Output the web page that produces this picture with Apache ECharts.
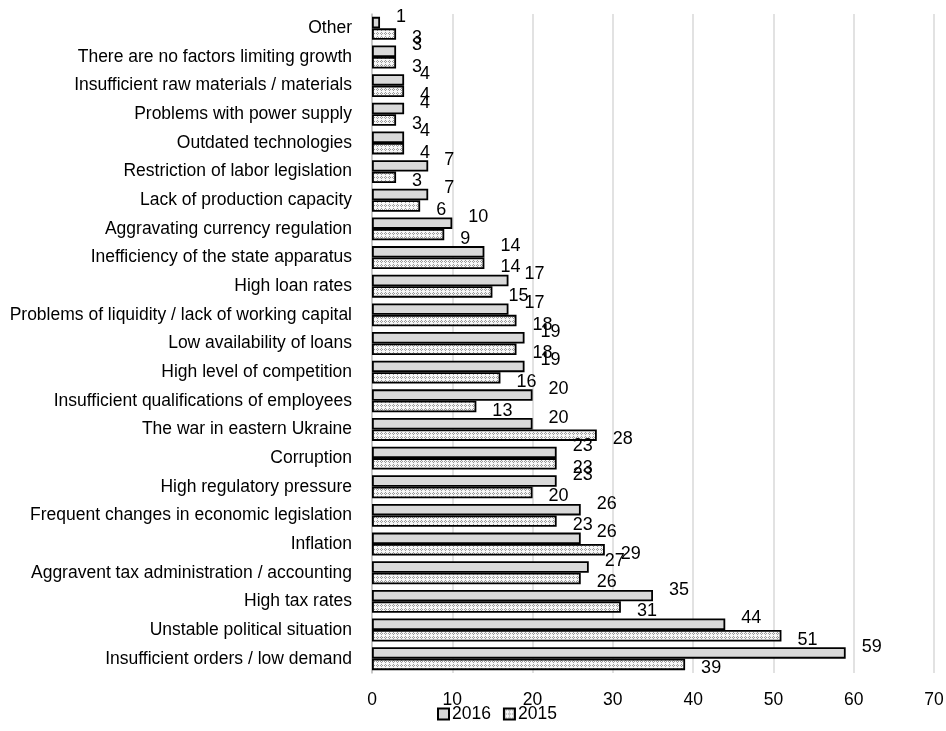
<!DOCTYPE html>
<html>
<head>
<meta charset="utf-8">
<script src="https://cdn.jsdelivr.net/npm/echarts@6/dist/echarts.min.js"></script>
<style>html,body{margin:0;padding:0;background:#fff}#c{width:946px;height:731px}</style>
</head>
<body>
<div id="c"></div>
<script>
const categories = [
  "Other",
  "There are no factors limiting growth",
  "Insufficient raw materials / materials",
  "Problems with power supply",
  "Outdated technologies",
  "Restriction of labor legislation",
  "Lack of production capacity",
  "Aggravating currency regulation",
  "Inefficiency of the state apparatus",
  "High loan rates",
  "Problems of liquidity / lack of working capital",
  "Low availability of loans",
  "High level of competition",
  "Insufficient qualifications of employees",
  "The war in eastern Ukraine",
  "Corruption",
  "High regulatory pressure",
  "Frequent changes in economic legislation",
  "Inflation",
  "Aggravent tax administration / accounting",
  "High tax rates",
  "Unstable political situation",
  "Insufficient orders / low demand"
];
const values2016 = [1, 3, 4, 4, 4, 7, 7, 10, 14, 17, 17, 19, 19, 20, 20, 23, 23, 26, 26, 27, 35, 44, 59];
const values2015 = [3, 3, 4, 3, 4, 3, 6, 9, 14, 15, 18, 18, 16, 13, 28, 23, 20, 23, 29, 26, 31, 51, 39];
const seriesNames = ["2016", "2015"];
const xTicks = [0, 10, 20, 30, 40, 50, 60, 70];

function makePattern() {
  const c = document.createElement('canvas');
  c.width = 4; c.height = 4;
  const g = c.getContext('2d');
  g.fillStyle = '#f7f7f7';
  g.fillRect(0, 0, 4, 4);
  g.fillStyle = '#9a9a9a';
  g.fillRect(1, 0, 1, 1);
  g.fillRect(0, 1, 1, 1);
  g.fillRect(2, 1, 1, 1);
  g.fillRect(1, 2, 1, 1);
  return c;
}
const pattern = { image: makePattern(), repeat: 'repeat' };
const FONT = "'Liberation Sans', Arial, sans-serif";

const chart = echarts.init(document.getElementById('c'), null, { renderer: 'canvas' });
chart.setOption({
  animation: false,
  backgroundColor: '#fff',
  textStyle: { fontFamily: FONT, color: '#000' },
  grid: { left: 372, right: 12, top: 14, bottom: 58, containLabel: false, outerBoundsMode: 'none' },
  legend: {
    data: seriesNames,
    bottom: 3,
    left: 432,
    icon: 'rect',
    itemWidth: 11,
    itemHeight: 11,
    itemGap: 12,
    textStyle: { fontFamily: FONT, fontSize: 17.5, color: '#000', padding: [0, 0, 0, -2] }
  },
  xAxis: {
    type: 'value',
    min: xTicks[0],
    max: xTicks[xTicks.length - 1],
    interval: 10,
    axisLine: { show: false },
    axisTick: { show: false },
    axisLabel: { fontFamily: FONT, fontSize: 17.5, color: '#000', margin: 18 },
    splitLine: { show: true, lineStyle: { color: '#d9d9d9', width: 1.5 } }
  },
  yAxis: {
    type: 'category',
    data: categories,
    inverse: true,
    axisLine: { show: true, lineStyle: { color: '#bfbfbf', width: 1.5 } },
    axisTick: { show: false },
    axisLabel: { fontFamily: FONT, fontSize: 17.5, color: '#000', margin: 20 }
  },
  series: [
    {
      name: seriesNames[0],
      type: 'bar',
      data: values2016,
      barGap: '0%',
      barCategoryGap: '20%',
      itemStyle: { color: '#d9d9d9', borderColor: '#000', borderWidth: 1.8 },
      label: { show: true, position: 'right', distance: 16, offset: [0, -6], fontFamily: FONT, fontSize: 18, color: '#000' }
    },
    {
      name: seriesNames[1],
      type: 'bar',
      data: values2015,
      barGap: '0%',
      barCategoryGap: '20%',
      itemStyle: { color: pattern, borderColor: '#000', borderWidth: 1.8 },
      label: { show: true, position: 'right', distance: 16, offset: [0, 4], fontFamily: FONT, fontSize: 18, color: '#000' }
    }
  ]
});
</script>
</body>
</html>
